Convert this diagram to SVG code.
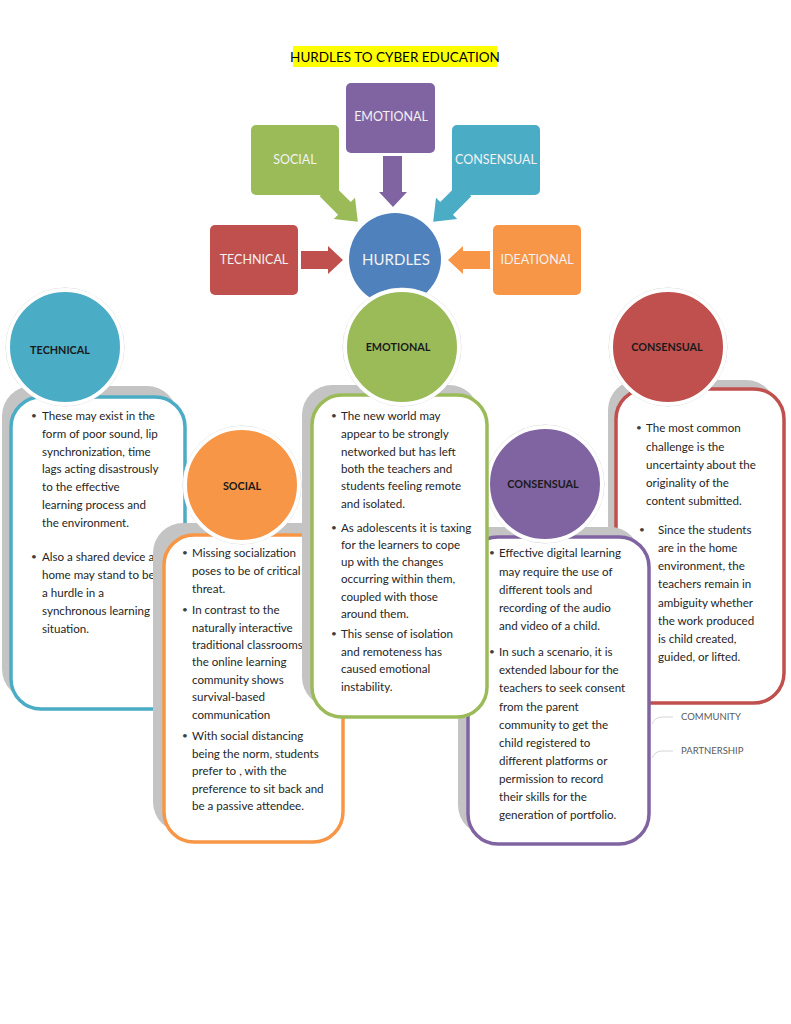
<svg xmlns="http://www.w3.org/2000/svg" width="791" height="1024" viewBox="0 0 791 1024">
<style>
text{font-family:Lato,"Open Sans","Liberation Sans",sans-serif}
.t{font-size:11.6px;fill:#262626}
.b{font-size:10px;fill:#404040}
.lbl{font-size:10.8px;font-weight:bold;fill:#1a1a1a;text-anchor:middle}
.box{font-size:12.5px;fill:#f2f2f2;text-anchor:middle}
.sh{fill:#c4c4c4}
.card{fill:#fff;stroke-width:3.5}
.circ{stroke:#fff;stroke-width:4}
.ring{fill:none;stroke:#d0d0d0;stroke-width:1}
.small{font-size:9.5px;fill:#595959}
</style>
<rect width="791" height="1024" fill="#fff"/>
<g id="title">
<rect x="293" y="46" width="204" height="21" fill="#ffff00"/>
<text x="395" y="61.5" style="font-size:13.5px;fill:#000;text-anchor:middle">HURDLES TO CYBER EDUCATION</text>
</g>
<g id="top-emotional"><rect x="346" y="83" width="89" height="70" rx="5" fill="#8064A2"/><text class="box" x="391" y="121">EMOTIONAL</text></g>
<g id="top-social"><rect x="251" y="125" width="88" height="70" rx="5" fill="#9BBB59"/><text class="box" x="295" y="164">SOCIAL</text></g>
<g id="top-consensual"><rect x="452" y="125" width="88" height="70" rx="5" fill="#4BACC6"/><text class="box" x="496" y="164">CONSENSUAL</text></g>
<g id="top-technical"><rect x="210" y="225" width="88" height="70" rx="5" fill="#C0504D"/><text class="box" x="254" y="264">TECHNICAL</text></g>
<g id="top-ideational"><rect x="493" y="225" width="88" height="70" rx="5" fill="#F79646"/><text class="box" x="537" y="264">IDEATIONAL</text></g>
<g id="connectors">
<polygon points="383,156 402,156 402,192 407,192 393,207 379,192 383,192" fill="#8064A2"/>
<polygon points="301,251 328,251 328,246 343,260 328,274 328,269 301,269" fill="#C0504D"/>
<polygon points="490,251 463,251 463,246 448,260 463,274 463,269 490,269" fill="#F79646"/>
<polygon points="0,-9 26,-9 26,-15 45,0 26,15 26,9 0,9" fill="#9BBB59" transform="translate(326,190) rotate(45)"/>
<polygon points="0,-9 26,-9 26,-15 45,0 26,15 26,9 0,9" fill="#4BACC6" transform="translate(465,190) rotate(135)"/>
</g>
<g id="hurdles"><circle cx="395" cy="259" r="46" fill="#4F81BD"/><text x="396" y="264.5" style="font-size:15px;fill:#f2f2f2;text-anchor:middle">HURDLES</text></g>

<g id="card-consensual-red">
<rect class="sh" x="608" y="380" width="168" height="315" rx="30"/>
<rect class="card" x="616" y="389" width="168" height="314" rx="30" stroke="#C0504D"/>
<circle class="ring" cx="668" cy="347" r="59"/>
<circle class="circ" cx="668" cy="347" r="57" fill="#C0504D"/>
<text class="lbl" x="667" y="351">CONSENSUAL</text>
<text class="b" x="636" y="431">•</text>
<text class="t" x="646" y="432">The most common</text>
<text class="t" x="646" y="451">challenge is the</text>
<text class="t" x="646" y="469">uncertainty about the</text>
<text class="t" x="646" y="487">originality of the</text>
<text class="t" x="646" y="505">content submitted.</text>
<text class="b" x="639" y="533">•</text>
<text class="t" x="658" y="534">Since the students</text>
<text class="t" x="658" y="552">are in the home</text>
<text class="t" x="658" y="570">environment, the</text>
<text class="t" x="658" y="588">teachers remain in</text>
<text class="t" x="658" y="607">ambiguity whether</text>
<text class="t" x="658" y="625">the work produced</text>
<text class="t" x="658" y="643">is child created,</text>
<text class="t" x="658" y="661">guided, or lifted.</text>
</g>
<g id="legend">
<path d="M652,724 Q655,717 662,717 L673,717" fill="none" stroke="#d6d6d6" stroke-width="1"/>
<path d="M652,758 Q655,751 662,751 L673,751" fill="none" stroke="#d6d6d6" stroke-width="1"/>
<text class="small" x="681" y="720">COMMUNITY</text>
<text class="small" x="681" y="754">PARTNERSHIP</text>
</g>

<g id="card-technical">
<rect class="sh" x="2" y="386" width="175" height="313" rx="30"/>
<rect class="card" x="11" y="397" width="174" height="312" rx="30" stroke="#4BACC6"/>
<circle class="ring" cx="65" cy="347" r="59"/>
<circle class="circ" cx="65" cy="347" r="57" fill="#4BACC6"/>
<text class="lbl" x="60" y="354">TECHNICAL</text>
<text class="b" x="31" y="419">•</text>
<text class="t" x="42" y="420">These may exist in the</text>
<text class="t" x="42" y="438">form of poor sound, lip</text>
<text class="t" x="42" y="456">synchronization, time</text>
<text class="t" x="42" y="473">lags acting disastrously</text>
<text class="t" x="42" y="491">to the effective</text>
<text class="t" x="42" y="509">learning process and</text>
<text class="t" x="42" y="527">the environment.</text>
<text class="b" x="31" y="560">•</text>
<text class="t" x="42" y="561">Also a shared device at</text>
<text class="t" x="42" y="579">home may stand to be</text>
<text class="t" x="42" y="597">a hurdle in a</text>
<text class="t" x="42" y="615">synchronous learning</text>
<text class="t" x="42" y="633">situation.</text>
</g>

<g id="card-social">
<rect class="sh" x="153" y="523" width="180" height="309" rx="30"/>
<rect class="card" x="164" y="535" width="179" height="307" rx="30" stroke="#F79646"/>
<circle class="ring" cx="242" cy="485" r="59"/>
<circle class="circ" cx="242" cy="485" r="57" fill="#F79646"/>
<text class="lbl" x="242" y="490">SOCIAL</text>
<text class="b" x="182" y="556">•</text>
<text class="t" x="192" y="557">Missing socialization</text>
<text class="t" x="192" y="575">poses to be of critical</text>
<text class="t" x="192" y="593">threat.</text>
<text class="b" x="182" y="613">•</text>
<text class="t" x="192" y="614">In contrast to the</text>
<text class="t" x="192" y="632">naturally interactive</text>
<text class="t" x="192" y="649">traditional classrooms;</text>
<text class="t" x="192" y="666">the online learning</text>
<text class="t" x="192" y="684">community shows</text>
<text class="t" x="192" y="701">survival-based</text>
<text class="t" x="192" y="719">communication</text>
<text class="b" x="182" y="739">•</text>
<text class="t" x="192" y="740">With social distancing</text>
<text class="t" x="192" y="758">being the norm, students</text>
<text class="t" x="192" y="775">prefer to , with the</text>
<text class="t" x="192" y="793">preference to sit back and</text>
<text class="t" x="192" y="810">be a passive attendee.</text>
</g>

<g id="card-consensual-purple">
<rect class="sh" x="458" y="527" width="182" height="308" rx="30"/>
<rect class="card" x="468" y="537" width="181" height="307" rx="30" stroke="#8064A2"/>
<circle class="ring" cx="545" cy="484" r="59"/>
<circle class="circ" cx="545" cy="484" r="57" fill="#8064A2"/>
<text class="lbl" x="543" y="488">CONSENSUAL</text>
<text class="b" x="489" y="556">•</text>
<text class="t" x="499" y="557">Effective digital learning</text>
<text class="t" x="499" y="576">may require the use of</text>
<text class="t" x="499" y="594">different tools and</text>
<text class="t" x="499" y="612">recording of the audio</text>
<text class="t" x="499" y="630">and video of a child.</text>
<text class="b" x="489" y="655">•</text>
<text class="t" x="499" y="656">In such a scenario, it is</text>
<text class="t" x="499" y="674">extended labour for the</text>
<text class="t" x="499" y="692">teachers to seek consent</text>
<text class="t" x="499" y="711">from the parent</text>
<text class="t" x="499" y="729">community to get the</text>
<text class="t" x="499" y="747">child registered to</text>
<text class="t" x="499" y="765">different platforms or</text>
<text class="t" x="499" y="783">permission to record</text>
<text class="t" x="499" y="801">their skills for the</text>
<text class="t" x="499" y="819">generation of portfolio.</text>
</g>

<g id="card-emotional">
<rect class="sh" x="302" y="385" width="177" height="322" rx="30"/>
<rect class="card" x="312" y="395" width="175" height="322" rx="30" stroke="#9BBB59"/>
<circle class="ring" cx="402" cy="347" r="59"/>
<circle class="circ" cx="402" cy="347" r="57" fill="#9BBB59"/>
<text class="lbl" x="398" y="351">EMOTIONAL</text>
<text class="b" x="331" y="419">•</text>
<text class="t" x="341" y="420">The new world may</text>
<text class="t" x="341" y="438">appear to be strongly</text>
<text class="t" x="341" y="456">networked but has left</text>
<text class="t" x="341" y="473">both the teachers and</text>
<text class="t" x="341" y="490">students feeling remote</text>
<text class="t" x="341" y="508">and isolated.</text>
<text class="b" x="331" y="531">•</text>
<text class="t" x="341" y="532">As adolescents it is taxing</text>
<text class="t" x="341" y="549">for the learners to cope</text>
<text class="t" x="341" y="566">up with the changes</text>
<text class="t" x="341" y="583">occurring within them,</text>
<text class="t" x="341" y="601">coupled with those</text>
<text class="t" x="341" y="618">around them.</text>
<text class="b" x="331" y="637">•</text>
<text class="t" x="341" y="638">This sense of isolation</text>
<text class="t" x="341" y="656">and remoteness has</text>
<text class="t" x="341" y="673">caused emotional</text>
<text class="t" x="341" y="691">instability.</text>
</g>
</svg>
